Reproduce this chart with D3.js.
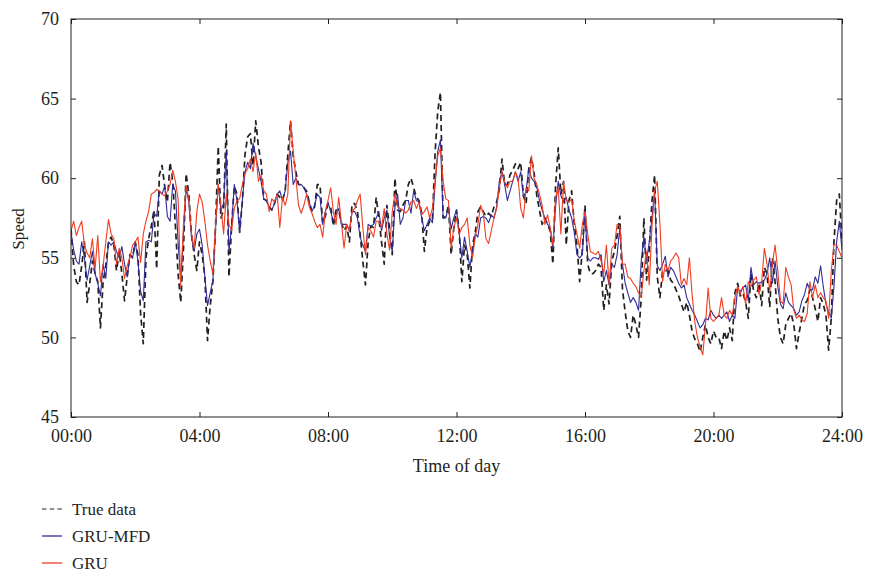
<!DOCTYPE html>
<html>
<head>
<meta charset="utf-8">
<script src="https://cdn.jsdelivr.net/npm/d3@7"></script>
<style>
  html, body { margin: 0; padding: 0; background: #fff; }
  svg { display: block; }
  text { font-family: "Liberation Serif", "DejaVu Serif", serif; fill: #231f20; }
</style>
</head>
<body>
<svg id="chart" width="870" height="575"></svg>
<script>
// Speed over one day, sampled every 5 minutes (289 samples, 00:00 .. 24:00)
const sampleStepMinutes = 5;

const trueData = [
  56.8,54.5,53.5,53.3,54.5,56.0,52.2,53.4,54.8,54.0, 53.5,50.6,53.5,54.5,56.0,56.3,55.8,54.2,55.4,54.0,
  52.3,53.8,55.2,55.0,56.0,55.2,51.5,49.6,55.0,56.2, 57.0,58.0,54.3,60.2,60.8,59.5,58.5,61.0,59.8,57.0,
  54.0,52.2,
  55.5,60.3,59.0,56.5,55.2,54.2,56.0,55.2,53.8,49.8, 52.0,53.5,57.0,62.0,57.5,58.0,63.4,53.8,57.0,59.5,
  59.0,56.6,58.5,61.5,62.6,62.8,60.8,63.6,62.0,61.0, 58.7,58.6,58.2,58.0,58.4,59.0,58.8,58.6,59.2,61.5,
  63.6,61.4,
  60.4,59.6,59.6,59.4,59.2,58.5,57.9,58.2,59.6,59.6, 57.2,57.6,58.4,58.2,57.0,58.0,58.0,57.2,56.7,57.0,
  56.0,58.4,58.4,57.9,56.5,54.8,53.3,56.0,57.0,56.9, 58.8,57.5,56.0,54.6,58.3,56.8,55.2,60.0,58.0,57.9,
  58.3,58.6,59.6,60.0,59.4,58.8,58.6,57.8,55.4,56.9, 57.3,57.3,61.6,64.2,65.4,57.5,57.6,58.3,55.2,56.9,
  58.0,56.7,53.5,55.8,55.2,53.1,55.8,56.6,57.9,58.2, 57.9,57.6,57.8,57.6,58.2,58.5,59.3,61.2,59.6,59.6,
  60.2,
  60.5,60.9,60.6,61.0,58.9,58.4,60.6,61.3,60.3,58.9, 58.0,57.1,57.5,57.1,56.7,54.6,59.5,61.9,59.0,59.8,
  55.8,58.6,59.2,57.1,55.8,53.5,55.5,58.3,54.6,54.0, 54.0,54.2,54.6,54.4,51.7,53.3,52.1,54.8,55.4,56.4,
  57.6,53.0,
  51.6,50.4,50.0,51.4,50.8,50.0,52.5,57.5,53.6,55.5, 58.5,60.2,53.8,52.5,54.2,54.2,54.2,53.6,53.4,53.0,
  52.6,52.1,51.6,52.2,51.4,50.4,49.9,49.6,49.1,50.0, 50.8,50.0,49.6,50.4,50.0,50.0,49.3,50.4,49.8,50.6,
  49.8,
  52.8,53.4,52.6,52.8,52.2,51.2,54.0,52.9,52.5,53.4, 52.0,54.4,54.0,51.9,55.0,53.5,51.2,50.0,49.6,50.8,
  51.2,51.5,50.8,49.3,50.3,51.2,52.1,52.3,53.0,52.5, 51.8,51.0,52.5,52.1,51.4,49.2,51.2,56.0,58.6,59.0,
  56.0
];

const gruMfd = [
  56.6,55.5,54.8,54.6,56.0,55.0,53.6,54.5,55.4,54.0, 53.4,52.6,54.6,53.7,56.0,55.8,56.0,55.4,55.0,55.7,
  54.6,53.8,55.2,55.0,56.0,54.8,52.9,52.3,56.0,56.1, 56.0,57.8,57.6,59.2,59.0,59.5,57.6,57.3,59.6,59.2,
  56.0,53.5,
  56.5,59.4,58.5,56.3,55.4,56.5,56.8,55.8,53.8,52.0, 52.8,53.6,56.8,59.6,58.0,58.4,61.7,55.4,57.0,59.6,
  58.6,56.6,58.6,60.4,61.0,60.6,62.2,61.4,60.6,59.8, 58.7,58.6,58.2,58.0,58.4,59.0,59.2,58.6,59.2,61.0,
  61.7,59.6,
  60.0,59.6,59.6,59.4,59.0,58.5,57.9,58.3,59.0,58.8, 57.1,57.9,58.5,57.9,57.3,57.7,58.1,57.1,57.1,57.1,
  56.7,57.9,57.9,57.5,56.3,55.8,55.4,57.1,57.0,57.1, 57.5,57.9,56.7,57.5,58.0,56.3,55.4,58.2,59.0,57.1,
  57.5,58.6,58.6,57.8,59.2,58.6,58.5,57.5,56.7,57.1, 57.5,57.2,59.6,61.7,62.4,57.5,57.5,58.2,56.8,57.5,
  58.0,56.5,55.0,56.3,55.4,54.4,55.4,56.5,56.3,57.5, 57.6,57.5,57.2,57.7,57.5,58.2,59.8,60.4,59.6,58.6,
  59.2,
  59.8,60.4,59.8,60.4,58.8,59.2,60.6,60.0,59.8,59.4, 58.6,58.0,57.5,57.1,56.9,55.6,58.2,59.8,58.9,58.5,
  58.8,58.0,57.5,56.6,55.2,55.0,55.2,57.9,55.0,54.8, 55.0,55.0,54.9,55.2,53.5,54.2,53.3,54.6,54.4,55.2,
  56.9,54.6,
  53.4,52.8,52.2,52.5,52.2,51.7,54.8,56.3,54.8,56.0, 57.5,59.2,54.5,54.2,54.6,55.1,53.8,54.4,54.2,53.8,
  53.4,53.1,53.3,52.5,52.1,51.7,51.4,51.0,50.6,50.8, 51.2,51.1,51.7,51.4,51.2,51.4,51.2,51.4,51.6,51.0,
  51.4,
  51.2,53.1,52.9,53.1,53.3,52.3,54.4,53.3,53.5,53.4, 53.5,53.6,54.0,55.0,53.4,54.8,53.2,52.1,51.8,52.8,
  52.2,52.0,51.8,51.4,51.6,52.3,52.7,53.4,53.0,53.0, 53.8,53.4,54.5,53.2,52.1,51.6,51.2,53.2,56.0,57.3,
  55.5
];

const gru = [
  56.7,57.3,56.4,56.9,57.3,55.8,55.3,55.0,56.2,54.3, 56.4,53.5,54.5,56.0,57.4,56.5,56.2,54.6,55.6,55.0,
  53.7,54.5,55.0,55.8,56.0,56.3,54.7,56.5,57.3,57.9, 59.0,59.1,59.3,59.2,59.0,58.9,59.2,59.6,60.5,59.8,
  58.7,53.2,
  57.1,59.5,58.7,56.5,55.6,57.9,59.0,58.5,57.3,55.8, 54.8,54.0,57.1,59.6,58.3,56.5,59.0,57.1,56.7,58.1,
  58.6,58.7,59.6,60.3,60.6,61.2,60.4,61.6,59.8,60.2, 59.2,59.0,57.9,58.7,58.5,59.0,56.9,58.8,58.3,59.0,
  63.6,61.7,
  60.0,58.3,57.8,58.3,59.0,58.2,57.8,57.3,56.9,57.1, 56.3,57.9,58.6,59.4,57.9,57.1,58.8,57.2,55.6,57.1,
  56.7,57.9,58.1,58.6,59.0,56.9,55.2,56.9,56.7,56.3, 57.3,57.3,56.9,58.1,56.5,55.5,57.9,59.0,58.2,58.1,
  58.0,57.8,58.0,58.5,58.6,58.1,58.5,57.7,57.9,58.2, 57.5,58.1,59.8,61.4,61.9,59.8,58.7,58.6,55.6,56.9,
  57.5,56.5,56.9,57.1,57.5,55.8,55.0,56.3,57.1,58.3, 57.8,56.2,55.9,56.7,57.5,58.1,59.4,60.4,59.8,59.4,
  59.8,
  59.8,60.4,60.0,58.1,57.5,59.4,59.2,61.4,60.0,59.6, 59.0,58.3,57.1,57.7,56.9,55.8,58.8,59.4,56.5,59.8,
  58.6,58.5,58.7,57.3,56.5,55.6,57.1,57.9,56.5,55.4, 55.3,55.2,55.4,54.8,54.0,55.8,53.3,55.6,55.8,57.1,
  57.0,54.6,
  54.6,53.8,53.7,53.4,53.2,52.8,52.5,54.2,55.4,53.3, 56.9,59.2,59.8,57.1,53.5,54.6,54.2,54.8,55.0,55.3,
  55.0,53.3,53.7,53.3,55.0,52.7,51.0,50.0,49.4,48.9, 50.8,53.1,51.2,51.0,51.2,51.4,52.5,51.4,51.2,51.7,
  51.4,
  52.5,53.2,52.7,53.2,52.1,53.5,53.2,53.6,53.8,52.7, 53.5,55.6,54.6,52.9,54.6,55.8,54.2,52.3,52.1,54.4,
  53.8,53.3,51.7,51.2,51.4,51.1,51.0,51.5,53.5,52.5, 53.3,52.5,52.8,52.5,52.3,51.2,54.2,55.8,55.8,55.4,
  55.0
];

const xTickLabels = ["00:00", "04:00", "08:00", "12:00", "16:00", "20:00", "24:00"];
const yTickValues = [45, 50, 55, 60, 65, 70];

const seriesNames = ["True data", "GRU-MFD", "GRU"];
const seriesColors = ["#231f20", "#2f2c96", "#f23c1f"];

// ---- layout ----
const svg = d3.select("#chart");
const plot = { left: 71, right: 842, top: 19, bottom: 417 };
const tickLen = 5;
const tickFont = 18;
const titleFont = 18;
const legendFont = 17;

const x = d3.scaleLinear().domain([0, 24 * 60]).range([plot.left, plot.right]);
const y = d3.scaleLinear().domain([45, 70]).range([plot.bottom, plot.top]);

const xTickValues = xTickLabels.map(s => {
  const [h, m] = s.split(":").map(Number);
  return h * 60 + m;
});

// ---- axes (ticks point inward on all four sides) ----
const axisColor = "#231f20";

svg.append("g")
  .attr("transform", `translate(0,${plot.bottom})`)
  .call(d3.axisBottom(x).tickValues(xTickValues)
    .tickFormat((d, i) => xTickLabels[i])
    .tickSizeInner(-tickLen).tickSizeOuter(0).tickPadding(12))
  .call(g => g.select(".domain").remove())
  .call(g => g.selectAll("line").attr("stroke", axisColor))
  .call(g => g.selectAll("text").attr("font-size", tickFont)
    .attr("font-family", "Liberation Serif").attr("fill", axisColor));

svg.append("g")
  .attr("transform", `translate(0,${plot.top})`)
  .call(d3.axisTop(x).tickValues(xTickValues).tickFormat("")
    .tickSizeInner(-tickLen).tickSizeOuter(0))
  .call(g => g.select(".domain").remove())
  .call(g => g.selectAll("line").attr("stroke", axisColor));

svg.append("g")
  .attr("transform", `translate(${plot.left},0)`)
  .call(d3.axisLeft(y).tickValues(yTickValues)
    .tickSizeInner(-tickLen).tickSizeOuter(0).tickPadding(12))
  .call(g => g.select(".domain").remove())
  .call(g => g.selectAll("line").attr("stroke", axisColor))
  .call(g => g.selectAll("text").attr("font-size", tickFont)
    .attr("font-family", "Liberation Serif").attr("fill", axisColor));

svg.append("g")
  .attr("transform", `translate(${plot.right},0)`)
  .call(d3.axisRight(y).tickValues(yTickValues).tickFormat("")
    .tickSizeInner(-tickLen).tickSizeOuter(0))
  .call(g => g.select(".domain").remove())
  .call(g => g.selectAll("line").attr("stroke", axisColor));

// ---- series ----
svg.append("clipPath").attr("id", "plot-clip")
  .append("rect")
  .attr("x", plot.left).attr("y", plot.top)
  .attr("width", plot.right - plot.left).attr("height", plot.bottom - plot.top);

const line = d3.line()
  .x((d, i) => x(i * sampleStepMinutes))
  .y(d => y(d));

const seriesData = [trueData, gruMfd, gru];
const seriesStyle = [
  { width: 1.7, dash: "6,4" },
  { width: 1.1, dash: null },
  { width: 1.1, dash: null }
];

const lines = svg.append("g").attr("clip-path", "url(#plot-clip)");
seriesData.forEach((values, k) => {
  lines.append("path")
    .datum(values)
    .attr("fill", "none")
    .attr("stroke", seriesColors[k])
    .attr("stroke-width", seriesStyle[k].width)
    .attr("stroke-dasharray", seriesStyle[k].dash)
    .attr("stroke-linejoin", "round")
    .attr("d", line);
});

// ---- frame ----
svg.append("rect")
  .attr("x", plot.left).attr("y", plot.top)
  .attr("width", plot.right - plot.left).attr("height", plot.bottom - plot.top)
  .attr("fill", "none").attr("stroke", axisColor).attr("stroke-width", 1);

// ---- axis titles ----
svg.append("text")
  .attr("x", (plot.left + plot.right) / 2).attr("y", 472)
  .attr("text-anchor", "middle").attr("font-size", titleFont)
  .text("Time of day");

svg.append("text")
  .attr("transform", `translate(24,229) rotate(-90)`)
  .attr("text-anchor", "middle").attr("font-size", legendFont)
  .text("Speed");

// ---- legend ----
const legend = svg.append("g");
seriesNames.forEach((name, k) => {
  const ly = 509 + k * 27;
  legend.append("line")
    .attr("x1", 42).attr("x2", 62).attr("y1", ly).attr("y2", ly)
    .attr("stroke", seriesColors[k])
    .attr("stroke-width", k === 0 ? 1.2 : 1.3)
    .attr("stroke-dasharray", k === 0 ? "4.5,3.2" : null);
  legend.append("text")
    .attr("x", 72).attr("y", ly + 6)
    .attr("font-size", legendFont)
    .text(name);
});
</script>
</body>
</html>
